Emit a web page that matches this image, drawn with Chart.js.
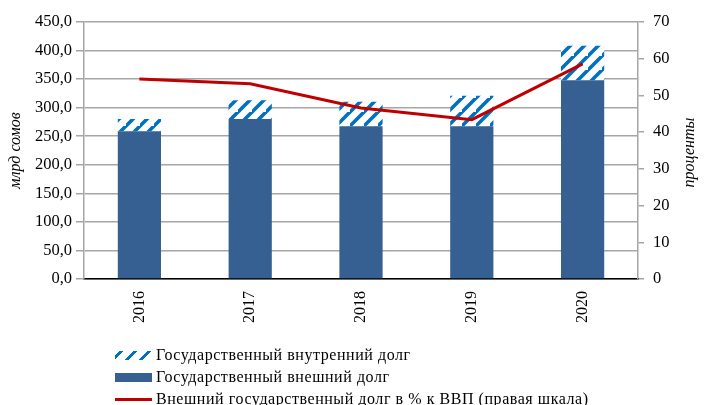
<!DOCTYPE html>
<html>
<head>
<meta charset="utf-8">
<script src="https://cdn.jsdelivr.net/npm/chart.js@4/dist/chart.umd.min.js"></script>
<style>
  html, body { margin: 0; padding: 0; background: #fff; }
  #wrap { position: relative; width: 719px; height: 405px; }
  #legend { position: absolute; left: 115px; top: 344px; font: 16px "Liberation Serif", "Times New Roman", serif; color: #000; letter-spacing: 0.55px; }
  .row { height: 22px; line-height: 22px; display: flex; align-items: center; white-space: nowrap; }
  .sw { width: 37px; margin-right: 4px; }
</style>
</head>
<body>
<div id="wrap">
  <canvas id="debtChart" width="719" height="405"></canvas>
  <div id="legend">
    <div class="row"><span class="sw" style="height:9px;background:repeating-linear-gradient(135deg,#fff 0 3px,#0070c0 3px 6px,#fff 6px 10px)"></span>Государственный внутренний долг</div>
    <div class="row"><span class="sw" style="height:9px;background:#376092"></span>Государственный внешний долг</div>
    <div class="row"><span class="sw" style="height:3px;background:#c00000"></span>Внешний государственный долг в % к ВВП (правая шкала)</div>
  </div>
</div>
<script>
// data
const years = ["2016", "2017", "2018", "2019", "2020"];
const externalDebt = [258.5, 280.2, 267.3, 267.3, 347.8];   // млрд сомов
const domesticDebt = [21.7, 32.6, 43.2, 53.7, 60.8];       // млрд сомов
const externalPctGdp = [54.5, 53.2, 46.6, 43.4, 58.6];      // %, right axis

const serif = '"Liberation Serif", "Times New Roman", serif';

// diagonal hatch for the domestic debt part
function makeHatch() {
    const n = 14;
    const c = document.createElement("canvas");
    c.width = n; c.height = n;
    const g = c.getContext("2d");
    g.fillStyle = "#fff";
    g.fillRect(0, 0, n, n);
    g.strokeStyle = "#0070c0";
    g.lineWidth = 3.6;
    g.beginPath();
    g.moveTo(-2, n + 2); g.lineTo(n + 2, -2);
    g.moveTo(-n - 2, n + 2); g.lineTo(2, -2);
    g.moveTo(n - 2, 2 * n + 2); g.lineTo(2 * n + 2, n - 2);
    g.stroke();
    return g.createPattern(c, "repeat");
}

// right axis title reads bottom-to-top like the left one
const rightTitle = {
    id: 'rightTitle',
    afterDraw(chart) {
        const c = chart.ctx;
        const a = chart.chartArea;
        c.save();
        c.translate(690, (a.top + a.bottom) / 2 + 2);
        c.rotate(-Math.PI / 2);
        c.font = 'italic 16px ' + serif;
        c.fillStyle = '#000';
        c.textAlign = 'center';
        c.textBaseline = 'middle';
        c.fillText('проценты', 0, 0);
        c.restore();
    }
};

const ctx = document.getElementById("debtChart").getContext("2d");
new Chart(ctx, {
    type: 'bar',
    data: {
        labels: years,
        datasets: [
            {
                type: 'line',
                label: 'Внешний государственный долг в % к ВВП (правая шкала)',
                data: externalPctGdp,
                yAxisID: 'y1',
                borderColor: '#c00000',
                borderWidth: 3,
                pointRadius: 0,
                tension: 0,
                order: 0
            },
            {
                label: 'Государственный внешний долг',
                data: externalDebt,
                backgroundColor: '#376092',
                yAxisID: 'y',
                stack: 'debt',
                order: 1,
                categoryPercentage: 1,
                barPercentage: 0.39
            },
            {
                label: 'Государственный внутренний долг',
                data: domesticDebt,
                backgroundColor: makeHatch(),
                yAxisID: 'y',
                stack: 'debt',
                order: 2,
                categoryPercentage: 1,
                barPercentage: 0.39
            }
        ]
    },
    options: {
        responsive: false,
        animation: false,
        layout: { padding: { top: 22, right: 0, left: 0, bottom: 0 } },
        plugins: {
            legend: { display: false },
            tooltip: { enabled: false }
        },
        scales: {
            x: {
                stacked: true,
                grid: { display: false, drawTicks: false },
                border: { display: true, color: '#000', width: 1.5 },
                ticks: {
                    color: '#000',
                    font: { family: serif, size: 16 },
                    minRotation: 90,
                    maxRotation: 90,
                    padding: 12
                },
                afterFit: s => { s.height = 126; }
            },
            y: {
                position: 'left',
                stacked: true,
                min: 0,
                max: 450,
                grid: { color: '#a6a6a6', lineWidth: 1.5, tickLength: 8 },
                border: { color: '#a6a6a6', width: 1.5 },
                ticks: {
                    stepSize: 50,
                    color: '#000',
                    padding: 4,
                    font: { family: serif, size: 16.5 },
                    callback: v => v.toFixed(1).replace('.', ',')
                },
                title: {
                    display: true,
                    text: 'млрд сомов',
                    color: '#000',
                    font: { family: serif, size: 16, style: 'italic' },
                    padding: { top: 6, bottom: 0 }
                },
                afterFit: s => { s.width = 84; }
            },
            y1: {
                position: 'right',
                min: 0,
                max: 70,
                grid: { drawOnChartArea: false, color: '#a6a6a6', lineWidth: 1.5, tickLength: 6 },
                border: { color: '#a6a6a6', width: 1.5 },
                ticks: {
                    stepSize: 10,
                    color: '#000',
                    padding: 9,
                    font: { family: serif, size: 16.5 }
                },
                afterFit: s => { s.width = 81; }
            }
        }
    },
    plugins: [rightTitle]
});
</script>
</body>
</html>
